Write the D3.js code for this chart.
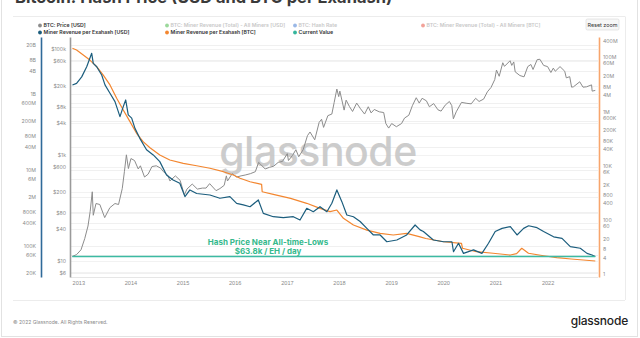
<!DOCTYPE html>
<html>
<head>
<meta charset="utf-8">
<script src="https://cdn.jsdelivr.net/npm/d3@7"></script>
<style>
  html, body { margin: 0; padding: 0; background: #fff; }
  svg { display: block; font-family: Inter, "Open Sans", sans-serif; }
</style>
</head>
<body>
<svg id="chart" width="640" height="338"></svg>
<script>
// ---- data ----
const yearTicks = [2013, 2014, 2015, 2016, 2017, 2018, 2019, 2020, 2021, 2022];

const hashRateTicks = [2e10, 8e9, 4e9, 1e9, 6e8, 2e8, 8e7, 4e7, 1e7, 6e6, 2e6, 8e5, 4e5, 1e5, 6e4, 2e4];
const hashRateLabels = ["20B", "8B", "4B", "1B", "600M", "200M", "80M", "40M", "10M", "6M", "2M", "800K", "400K", "100K", "60K", "20K"];

const priceTicks = [1e5, 6e4, 2e4, 8e3, 4e3, 1e3, 600, 200, 80, 40, 10, 6];
const priceLabels = ["$100k", "$60k", "$20k", "$8k", "$4k", "$1k", "$600", "$200", "$80", "$40", "$10", "$6"];

const btcTicks = [4e8, 1e8, 6e7, 2e7, 8e6, 4e6, 1e6, 6e5, 2e5, 8e4, 4e4, 1e4, 6e3, 2e3, 800, 400, 100, 60, 20, 8, 4, 1];
const btcLabels = ["400M", "100M", "60M", "20M", "8M", "4M", "1M", "600K", "200K", "80K", "40K", "10K", "6K", "2K", "800", "400", "100", "60", "20", "8", "4", "1"];

// BTC price [USD]
const btcPrice = [
  ["2012-11-20", 12], ["2012-12-20", 13], ["2013-01-20", 16], ["2013-02-15", 26], ["2013-03-10", 45],
  ["2013-03-25", 84], ["2013-04-09", 200], ["2013-04-16", 72], ["2013-05-05", 120], ["2013-06-01", 115],
  ["2013-07-05", 65], ["2013-08-10", 100], ["2013-09-15", 120], ["2013-10-10", 115], ["2013-11-05", 230],
  ["2013-11-20", 480], ["2013-12-04", 1000], ["2013-12-18", 550], ["2014-01-05", 850], ["2014-01-30", 780],
  ["2014-02-25", 540], ["2014-03-12", 620], ["2014-04-10", 380], ["2014-05-05", 430], ["2014-06-01", 600],
  ["2014-07-01", 620], ["2014-08-01", 560], ["2014-08-20", 480], ["2014-09-20", 410], ["2014-10-05", 320],
  ["2014-11-12", 400], ["2014-12-15", 330], ["2015-01-14", 175], ["2015-02-01", 225], ["2015-03-10", 280],
  ["2015-04-15", 225], ["2015-05-20", 235], ["2015-06-15", 235], ["2015-07-10", 285], ["2015-08-24", 210],
  ["2015-09-20", 230], ["2015-10-20", 265], ["2015-11-04", 400], ["2015-11-12", 320], ["2015-12-15", 440],
  ["2016-01-15", 380], ["2016-02-15", 400], ["2016-03-15", 415], ["2016-04-20", 440], ["2016-05-25", 480],
  ["2016-06-17", 720], ["2016-07-01", 660], ["2016-08-02", 540], ["2016-09-01", 580], ["2016-10-01", 610],
  ["2016-11-01", 720], ["2016-12-01", 750], ["2017-01-04", 1050], ["2017-01-12", 780], ["2017-02-10", 980],
  ["2017-03-05", 1250], ["2017-03-25", 920], ["2017-04-25", 1250], ["2017-05-25", 2300], ["2017-06-12", 2700],
  ["2017-07-15", 1920], ["2017-08-15", 4100], ["2017-09-01", 4700], ["2017-09-15", 3300], ["2017-10-15", 5500],
  ["2017-11-12", 5900], ["2017-11-28", 9700], ["2017-12-17", 17500], ["2017-12-30", 12600], ["2018-01-07", 16000],
  ["2018-02-06", 7000], ["2018-02-20", 10800], ["2018-03-15", 8200], ["2018-04-06", 6600], ["2018-05-05", 9500],
  ["2018-06-01", 7400], ["2018-06-29", 5900], ["2018-07-25", 8100], ["2018-08-14", 6200], ["2018-09-05", 7200],
  ["2018-10-10", 6500], ["2018-11-10", 6300], ["2018-11-25", 3900], ["2018-12-15", 3200], ["2019-01-05", 3900],
  ["2019-02-07", 3400], ["2019-03-15", 3900], ["2019-04-05", 4950], ["2019-05-05", 5600], ["2019-05-30", 8500],
  ["2019-06-26", 12000], ["2019-07-17", 9500], ["2019-08-06", 11700], ["2019-09-05", 10500], ["2019-09-26", 8100],
  ["2019-10-26", 9300], ["2019-11-25", 7100], ["2019-12-17", 6700], ["2020-01-15", 8700], ["2020-02-13", 10200],
  ["2020-03-01", 8500], ["2020-03-12", 4800], ["2020-04-01", 6500], ["2020-05-08", 9800], ["2020-06-15", 9400],
  ["2020-07-15", 9200], ["2020-08-15", 11700], ["2020-09-08", 10200], ["2020-10-10", 11300], ["2020-11-05", 15500],
  ["2020-12-01", 18800], ["2020-12-27", 26500], ["2021-01-08", 40000], ["2021-01-27", 30500], ["2021-02-21", 55000],
  ["2021-03-05", 47000], ["2021-04-13", 60000], ["2021-04-25", 49000], ["2021-05-09", 57000], ["2021-05-19", 37000],
  ["2021-06-21", 31500], ["2021-07-20", 29800], ["2021-08-15", 46500], ["2021-09-06", 51000], ["2021-09-21", 41000],
  ["2021-10-20", 63000], ["2021-11-08", 64000], ["2021-12-04", 49000], ["2022-01-01", 46500], ["2022-01-24", 36000],
  ["2022-02-10", 43500], ["2022-02-24", 38000], ["2022-03-29", 46500], ["2022-05-01", 38000], ["2022-05-12", 28500],
  ["2022-06-05", 30000], ["2022-06-18", 19000], ["2022-07-01", 19300], ["2022-08-14", 24000], ["2022-09-06", 19000],
  ["2022-10-01", 19300], ["2022-11-05", 21000], ["2022-11-09", 16000], ["2022-12-01", 16500]
];

// Miner revenue per exahash [USD / EH / day]
const revPerEhUsd = [
  ["2012-11-21", 2.08e9], ["2012-12-20", 2.3e9], ["2013-01-25", 3.4e9], ["2013-03-01", 6.3e9], ["2013-04-05", 1.42e10],
  ["2013-04-16", 7.7e9], ["2013-05-10", 6.3e9], ["2013-06-14", 3.8e9], ["2013-07-07", 2.1e9], ["2013-08-11", 1.26e9],
  ["2013-09-15", 7.6e8], ["2013-10-20", 3.05e8], ["2013-11-12", 5.6e8], ["2013-11-29", 8.4e8], ["2013-12-17", 3.4e8],
  ["2014-01-10", 2.8e8], ["2014-02-02", 1.5e8], ["2014-03-08", 8.2e7], ["2014-04-24", 4.1e7], ["2014-06-10", 3.0e7],
  ["2014-07-26", 2.0e7], ["2014-09-11", 8.9e6], ["2014-10-27", 6.6e6], ["2014-12-13", 5.4e6], ["2015-01-18", 2.4e6],
  ["2015-02-22", 3.6e6], ["2015-04-10", 2.9e6], ["2015-07-12", 2.65e6], ["2015-09-20", 2.17e6], ["2015-11-29", 2.4e6],
  ["2016-01-15", 1.6e6], ["2016-03-02", 1.45e6], ["2016-04-18", 1.3e6], ["2016-06-15", 1.96e6], ["2016-07-20", 8.7e5],
  ["2016-09-28", 7.1e5], ["2016-12-07", 6.7e5], ["2017-02-15", 7.1e5], ["2017-04-03", 5.8e5], ["2017-05-20", 1.18e6],
  ["2017-07-05", 9.6e5], ["2017-08-21", 1.3e6], ["2017-10-08", 9.6e5], ["2017-11-12", 1.6e6], ["2017-12-17", 3.6e6],
  ["2018-01-21", 1.77e6], ["2018-02-25", 7.9e5], ["2018-04-12", 7.1e5], ["2018-05-29", 5.3e5], ["2018-07-15", 3.5e5],
  ["2018-08-30", 2.35e5], ["2018-10-16", 2.35e5], ["2018-12-02", 1.56e5], ["2019-02-10", 1.73e5], ["2019-04-20", 2.35e5],
  ["2019-06-18", 4.3e5], ["2019-07-23", 3.2e5], ["2019-08-15", 2.9e5], ["2019-10-24", 1.73e5], ["2020-01-03", 1.56e5],
  ["2020-03-02", 1.56e5], ["2020-03-13", 8.5e4], ["2020-04-17", 1.42e5], ["2020-05-22", 7.7e4], ["2020-07-31", 9.5e4],
  ["2020-09-28", 7.7e4], ["2020-11-13", 1.42e5], ["2020-12-30", 2.9e5], ["2021-02-16", 3.5e5], ["2021-04-15", 3.9e5],
  ["2021-06-01", 2.35e5], ["2021-07-17", 3.5e5], ["2021-08-21", 4.1e5], ["2021-10-19", 3.65e5], ["2021-12-04", 2.9e5],
  ["2022-02-12", 2.1e5], ["2022-04-12", 1.92e5], ["2022-06-09", 1.16e5], ["2022-08-18", 1.05e5], ["2022-10-04", 7.7e4],
  ["2022-11-08", 7.0e4], ["2022-12-01", 6.38e4]
];

// Miner revenue per exahash [BTC / EH / day]
const revPerEhBtc = [
  ["2012-11-21", 2.15e8], ["2012-12-20", 1.86e8], ["2013-02-05", 1.22e8], ["2013-03-23", 7.9e7], ["2013-05-10", 4.5e7],
  ["2013-06-25", 2.2e7], ["2013-08-11", 9.5e6], ["2013-09-27", 3.05e6], ["2013-11-12", 1.13e6], ["2013-12-29", 4.2e5],
  ["2014-02-13", 1.55e5], ["2014-03-31", 7.6e4], ["2014-05-18", 4.55e4], ["2014-07-26", 2.44e4], ["2014-10-04", 1.6e4],
  ["2015-01-06", 1.2e4], ["2015-04-10", 9.8e3], ["2015-07-12", 7.9e3], ["2015-10-14", 5.9e3], ["2015-12-23", 4.45e3],
  ["2016-02-08", 3.37e3], ["2016-04-18", 2.5e3], ["2016-07-08", 2.0e3], ["2016-07-12", 1.07e3], ["2016-09-28", 860],
  ["2017-01-27", 610], ["2017-05-20", 400], ["2017-08-21", 260], ["2017-10-30", 196], ["2017-12-17", 226],
  ["2018-02-01", 112], ["2018-04-12", 63], ["2018-07-15", 41], ["2018-10-16", 31], ["2019-01-16", 27],
  ["2019-04-20", 31], ["2019-07-23", 23], ["2019-09-01", 20], ["2020-01-03", 15.2], ["2020-05-08", 13.3],
  ["2020-05-15", 8.7], ["2020-08-20", 6.5], ["2020-12-15", 5.7], ["2021-04-15", 4.9], ["2021-05-29", 5.5],
  ["2021-07-04", 8.7], ["2021-08-20", 5.7], ["2021-12-04", 4.6], ["2022-03-06", 3.9], ["2022-06-15", 3.5],
  ["2022-12-01", 2.95]
];

// latest hash price, drawn as a flat reference line
const currentValue = 63800;
const currentValueSpan = ["2012-11-20", "2022-12-01"];

// ---- layout ----
const svg = d3.select("#chart");
const parse = d3.timeParse("%Y-%m-%d");
const plotTop = 37, plotBottom = 277, plotLeft = 71, plotRight = 598;

const x = d3.scaleTime()
  .domain([parse("2012-11-11"), parse("2022-12-20")])
  .range([plotLeft, plotRight]);

const yHash = d3.scaleLog().domain([1.54e4, 3.19e10]).range([plotBottom, plotTop]);
const yPrice = d3.scaleLog().domain([4.9, 1.687e5]).range([plotBottom, plotTop]);
const yBtc = d3.scaleLog().domain([0.755, 5.63e8]).range([plotBottom, plotTop]);
const yUsdEh = d3.scaleLog().domain([1.84e4, 3.81e10]).range([plotBottom, plotTop]);

// frame
svg.append("rect").attr("x", 1.5).attr("y", -10).attr("width", 636).attr("height", 346.5)
  .attr("fill", "none").attr("stroke", "#e2e2e2");
svg.append("line").attr("x1", 13).attr("x2", 625).attr("y1", 16.5).attr("y2", 16.5).attr("stroke", "#ececec");
svg.append("line").attr("x1", 625.5).attr("x2", 625.5).attr("y1", 16.5).attr("y2", 300).attr("stroke", "#ececec");
svg.append("line").attr("x1", 13).attr("x2", 625).attr("y1", 300.5).attr("y2", 300.5).attr("stroke", "#ececec");

// title (runs off the top edge of the page)
svg.append("text").attr("x", 15).attr("y", 2.5)
  .attr("font-size", 16.5).attr("font-weight", 700).attr("fill", "#3a3a3a")
  .text("Bitcoin: Hash Price (USD and BTC per Exahash)");

// gridlines
const grid = svg.append("g");
hashRateTicks.forEach(v => {
  grid.append("line").attr("x1", plotLeft).attr("x2", plotRight)
    .attr("y1", Math.round(yHash(v)) + 0.5).attr("y2", Math.round(yHash(v)) + 0.5)
    .attr("stroke", "#f0f0f0");
});
priceTicks.forEach(v => {
  grid.append("line").attr("x1", plotLeft).attr("x2", plotRight)
    .attr("y1", Math.round(yPrice(v)) + 0.5).attr("y2", Math.round(yPrice(v)) + 0.5)
    .attr("stroke", "#f2f2f2");
});
svg.append("line").attr("x1", plotLeft).attr("x2", plotRight)
  .attr("y1", plotBottom + 0.5).attr("y2", plotBottom + 0.5).attr("stroke", "#e6e6e6");

// watermark
svg.append("text").attr("x", 318).attr("y", 166).attr("text-anchor", "middle")
  .attr("font-size", 41).attr("font-weight", 500).attr("fill", "#c4c4c4").attr("opacity", 0.85)
  .attr("letter-spacing", -0.5)
  .text("glassnode");

// series
const toPts = arr => arr.map(d => ({ date: parse(d[0]), value: d[1] }));
function drawLine(data, yScale, color, width) {
  svg.append("path")
    .datum(toPts(data))
    .attr("fill", "none")
    .attr("stroke", color)
    .attr("stroke-width", width)
    .attr("stroke-linejoin", "round")
    .attr("d", d3.line().x(d => x(d.date)).y(d => yScale(d.value)));
}
drawLine(btcPrice, yPrice, "#8c8c8c", 1);
drawLine(revPerEhBtc, yBtc, "#f3862f", 1.2);
drawLine(revPerEhUsd, yUsdEh, "#1b5d7d", 1.2);
drawLine(currentValueSpan.map(d => [d, currentValue]), yUsdEh, "#3cbaa2", 1.3);

// annotation
const annColor = "#35b98c";
svg.append("text").attr("x", 268).attr("y", 244.5).attr("text-anchor", "middle")
  .attr("font-size", 8).attr("font-weight", 700).attr("fill", annColor)
  .text("Hash Price Near All-time-Lows");
svg.append("text").attr("x", 268).attr("y", 254).attr("text-anchor", "middle")
  .attr("font-size", 8).attr("font-weight", 700).attr("fill", annColor)
  .text("$" + d3.format(".1f")(currentValue / 1000) + "k / EH / day");

// axes
function styleAxis(g, lineColor) {
  g.select(".domain").attr("stroke", lineColor).attr("stroke-width", 1.6);
  g.selectAll(".tick line").remove();
  g.selectAll(".tick text").attr("fill", "#8a8a8a").attr("font-size", 5.2)
    .attr("font-family", "Inter, sans-serif");
}
const hashAxis = svg.append("g").attr("transform", "translate(41,0)")
  .call(d3.axisLeft(yHash).tickValues(hashRateTicks)
    .tickFormat((d, i) => hashRateLabels[i]).tickSize(0).tickPadding(5).tickSizeOuter(0));
styleAxis(hashAxis, "#2f6a99");

const priceAxis = svg.append("g").attr("transform", "translate(70,0)")
  .call(d3.axisLeft(yPrice).tickValues(priceTicks)
    .tickFormat((d, i) => priceLabels[i]).tickSize(0).tickPadding(4).tickSizeOuter(0));
styleAxis(priceAxis, "#9a9a9a");

const btcAxis = svg.append("g").attr("transform", "translate(599,0)")
  .call(d3.axisRight(yBtc).tickValues(btcTicks)
    .tickFormat((d, i) => btcLabels[i]).tickSize(0).tickPadding(4).tickSizeOuter(0));
styleAxis(btcAxis, "#f7a56c");

const xAxis = svg.append("g").attr("transform", `translate(0,${plotBottom})`)
  .call(d3.axisBottom(x).tickValues(yearTicks.map(y => new Date(y, 0, 1)))
    .tickFormat(d3.timeFormat("%Y")).tickSize(0).tickPadding(4));
xAxis.select(".domain").remove();
xAxis.selectAll(".tick text").attr("fill", "#8a8a8a").attr("font-size", 5.6);

// legend
const legendItems = [
  { label: "BTC: Price [USD]", color: "#8c8c8c", x: 40, y: 25.5, on: true },
  { label: "BTC: Miner Revenue (Total) - All Miners [USD]", color: "#9bd89b", x: 167, y: 25.5, on: false },
  { label: "BTC: Hash Rate", color: "#9ab8e6", x: 295, y: 25.5, on: false },
  { label: "BTC: Miner Revenue (Total) - All Miners [BTC]", color: "#f2a299", x: 423, y: 25.5, on: false },
  { label: "Miner Revenue per Exahash [USD]", color: "#1b5d7d", x: 40, y: 32.5, on: true },
  { label: "Miner Revenue per Exahash [BTC]", color: "#f3862f", x: 167, y: 32.5, on: true },
  { label: "Current Value", color: "#35b59c", x: 295, y: 32.5, on: true }
];
const lg = svg.append("g").selectAll("g").data(legendItems).join("g")
  .attr("transform", d => `translate(${d.x},${d.y})`);
lg.append("circle").attr("r", 1.9).attr("fill", d => d.color);
lg.append("text").attr("x", 3.6).attr("dy", "0.35em")
  .attr("font-size", 5.2).attr("font-weight", 600)
  .attr("fill", d => d.on ? "#333" : "#c8c8c8")
  .text(d => d.label);

// reset zoom button
const btn = svg.append("g").attr("transform", "translate(586,19)");
btn.append("rect").attr("width", 33).attr("height", 11).attr("rx", 1.5)
  .attr("fill", "#f7f7f7").attr("stroke", "#d6d6d6").attr("stroke-width", 0.6);
btn.append("text").attr("x", 16.5).attr("y", 5.8).attr("dy", "0.35em").attr("text-anchor", "middle")
  .attr("font-size", 5.4).attr("fill", "#333").text("Reset zoom");

// footer
svg.append("text").attr("x", 13).attr("y", 323.5)
  .attr("font-size", 5).attr("fill", "#8a8a8a")
  .text("© 2022 Glassnode. All Rights Reserved.");
svg.append("text").attr("x", 628).attr("y", 325).attr("text-anchor", "end")
  .attr("font-size", 12).attr("font-weight", 500).attr("fill", "#222").attr("letter-spacing", -0.2)
  .text("glassnode");
</script>
</body>
</html>
